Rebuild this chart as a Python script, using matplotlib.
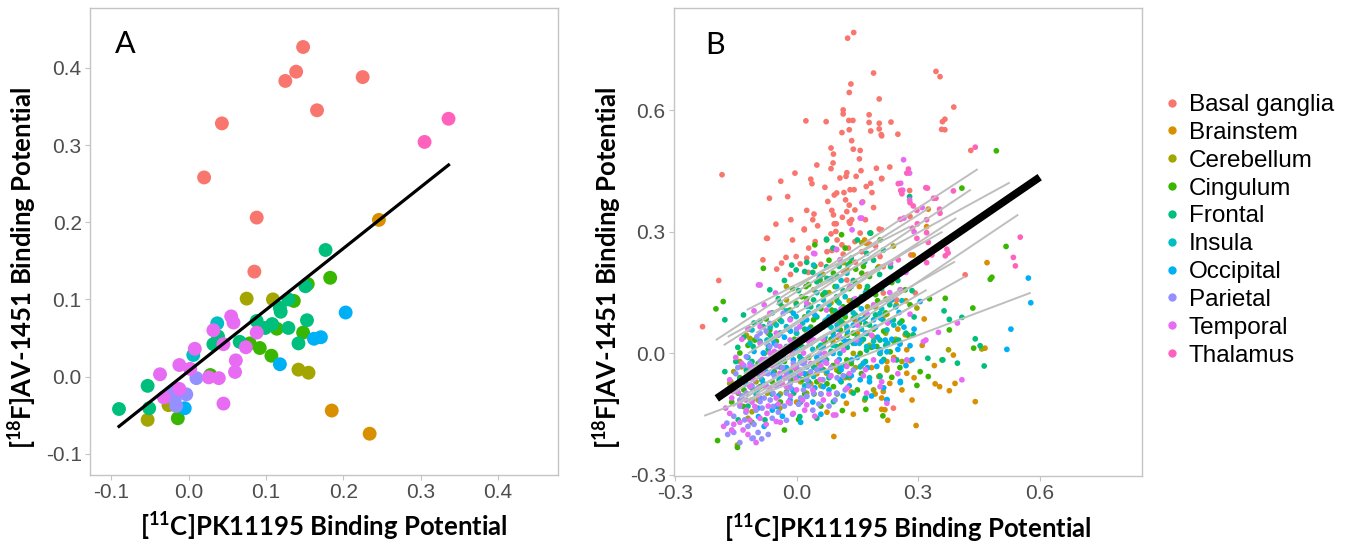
import matplotlib
matplotlib.use('Agg')
import matplotlib.pyplot as plt
from matplotlib.lines import Line2D
import numpy as np

plt.rcParams['font.family'] = ['Liberation Sans', 'DejaVu Sans']
plt.rcParams['axes.unicode_minus'] = False
plt.rcParams['mathtext.fontset'] = 'custom'
plt.rcParams['mathtext.rm'] = 'Lato'
plt.rcParams['mathtext.bf'] = 'Lato:bold'

REGIONS = ['Basal ganglia', 'Brainstem', 'Cerebellum', 'Cingulum', 'Frontal',
           'Insula', 'Occipital', 'Parietal', 'Temporal', 'Thalamus']
COLORS = ['#F8766D', '#D89000', '#A3A500', '#39B600', '#00BF7D',
          '#00BFC4', '#00B0F6', '#9590FF', '#E76BF3', '#FF62BC']

# ---------------- Panel A: regional means (PK11195 BP, AV-1451 BP) ----------------
A_BASAL = [(0.148, 0.427), (0.139, 0.395), (0.125, 0.383), (0.225, 0.388), (0.166, 0.345),
           (0.043, 0.328), (0.020, 0.258), (0.088, 0.206), (0.085, 0.136)]
A_BRAINSTEM = [(0.246, 0.203), (0.185, -0.044), (0.234, -0.074)]
A_CEREBELLUM = [(-0.053, -0.056), (-0.026, -0.037), (0.075, 0.101), (0.109, 0.100),
                (0.142, 0.009), (0.155, 0.005)]
A_CINGULUM = [(-0.014, -0.054), (0.028, 0.002), (0.079, 0.043), (0.092, 0.037), (0.107, 0.027),
              (0.114, 0.062), (0.136, 0.098), (0.148, 0.057), (0.183, 0.128), (0.154, 0.120)]
A_FRONTAL = [(-0.090, -0.042), (-0.053, -0.012), (-0.051, -0.041), (0.038, 0.052), (0.032, 0.042),
             (0.066, 0.045), (0.177, 0.164), (0.151, 0.117), (0.129, 0.100), (0.118, 0.089),
             (0.119, 0.084), (0.153, 0.073), (0.088, 0.072), (0.108, 0.068), (0.129, 0.063),
             (0.099, 0.063), (0.142, 0.043)]
A_INSULA = [(0.006, 0.028), (0.037, 0.069)]
A_OCCIPITAL = [(-0.005, -0.041), (0.118, 0.016), (0.162, 0.049), (0.171, 0.051), (0.203, 0.083)]
A_PARIETAL = [(-0.022, -0.020), (-0.016, -0.038), (-0.003, -0.023), (0.010, -0.002), (-0.018, -0.030)]
A_TEMPORAL = [(-0.037, 0.003), (-0.012, 0.015), (-0.012, -0.016), (-0.032, -0.027), (0.002, 0.010),
              (0.008, 0.036), (0.026, -0.001), (0.039, -0.002), (0.045, -0.035), (0.032, 0.060),
              (0.045, 0.042), (0.055, 0.078), (0.058, 0.070), (0.061, 0.021), (0.060, 0.006),
              (0.074, 0.038), (0.088, 0.057)]
A_THALAMUS = [(0.305, 0.304), (0.336, 0.334)]
A_FIT = (0.795, 0.007)   # slope, intercept of panel-A regression line

# ---------------- Panel B: all subjects x regions ----------------
B_BASAL = [(0.141, 0.792), (0.126, 0.778), (0.190, 0.692), (0.134, 0.665), (0.130, 0.644),
           (0.204, 0.628), (0.115, 0.601), (0.115, 0.591), (0.023, 0.574), (0.073, 0.572),
           (0.129, 0.575), (0.139, 0.575), (0.179, 0.589), (0.179, 0.570), (0.204, 0.568),
           (0.183, 0.549), (0.204, 0.554), (0.210, 0.537), (0.233, 0.571), (0.250, 0.541),
           (0.112, 0.545), (0.130, 0.552), (0.136, 0.525), (0.140, 0.504), (0.157, 0.501),
           (0.085, 0.507), (0.091, 0.492), (0.155, 0.480), (0.050, 0.465), (0.085, 0.456),
           (0.124, 0.446), (0.159, 0.451), (0.197, 0.457), (-0.004, 0.445), (-0.184, 0.441),
           (-0.039, 0.425), (0.035, 0.430), (0.038, 0.419), (0.107, 0.433), (0.122, 0.437),
           (0.147, 0.437), (0.210, 0.432), (0.172, 0.412), (0.183, 0.420), (0.186, 0.397),
           (-0.067, 0.383), (-0.022, 0.387), (0.077, 0.375), (0.093, 0.391), (0.099, 0.396),
           (0.117, 0.397), (0.132, 0.404), (0.142, 0.404), (0.121, 0.379), (0.130, 0.366),
           (0.163, 0.374), (0.025, 0.353), (0.043, 0.344), (0.040, 0.330), (-0.051, 0.319),
           (-0.014, 0.330), (0.052, 0.315), (0.087, 0.353), (0.091, 0.342), (0.124, 0.350),
           (0.144, 0.354), (0.113, 0.336), (0.136, 0.330), (0.132, 0.321), (0.098, 0.320),
           (0.019, 0.307), (0.097, 0.301), (0.204, 0.307), (-0.074, 0.284), (0.019, 0.305),
           (-0.072, 0.284), (-0.083, 0.231), (-0.026, 0.237), (-0.037, 0.223), (-0.049, 0.208),
           (-0.001, 0.239), (0.009, 0.221), (0.029, 0.200), (-0.192, 0.180), (-0.232, 0.066),
           (0.075, 0.251), (0.087, 0.254), (0.099, 0.256), (0.112, 0.268), (0.128, 0.260),
           (0.144, 0.276), (0.161, 0.251), (0.157, 0.297), (0.206, 0.239), (0.214, 0.214),
           (0.093, 0.320), (0.130, 0.325), (0.046, 0.276), (0.116, 0.202), (0.124, 0.181),
           (0.214, 0.149), (0.247, 0.132), (0.239, -0.135), (0.144, 0.083), (0.173, 0.050),
           (0.358, 0.553), (0.360, 0.572), (0.209, 0.540), (0.430, 0.501), (0.210, 0.431),
           (0.279, 0.402), (0.280, 0.338), (0.210, 0.305), (0.282, 0.243), (0.416, 0.194),
           (0.293, 0.149), (0.256, 0.157), (0.344, 0.696), (0.354, 0.683), (0.366, 0.578),
           (0.366, 0.552), (0.388, 0.608), (0.06, 0.22), (0.10, 0.28), (0.18, 0.27), (0.03, 0.26),
           (0.17, 0.33), (0.07, 0.41), (0.19, 0.36), (-0.01, 0.28), (0.23, 0.46), (0.09, 0.47),
           (0.055, 0.185), (0.115, 0.245), (0.145, 0.225), (0.175, 0.195), (0.025, 0.235),
           (0.195, 0.265), (0.085, 0.295), (-0.015, 0.195)]
B_BRAINSTEM = [(0.325, 0.356), (0.321, 0.313), (0.470, 0.224), (0.268, 0.046), (0.272, 0.009),
               (0.387, -0.004), (0.272, -0.049), (0.223, -0.020), (0.223, -0.035), (0.342, -0.075),
               (0.353, -0.082), (0.377, -0.092), (0.391, -0.074), (0.441, -0.119), (0.295, -0.178),
               (0.214, -0.094), (0.210, -0.138), (0.246, 0.120), (0.219, 0.095), (0.092, -0.205),
               (0.465, 0.013), (0.280, -0.018), (0.194, -0.100), (0.123, -0.123), (0.218, -0.139),
               (0.203, -0.057), (0.230, -0.074), (0.168, 0.280), (0.172, 0.272), (0.288, 0.243),
               (0.203, 0.214), (0.150, 0.050), (0.180, 0.020), (0.100, -0.020), (0.250, 0.060),
               (0.130, 0.130), (0.060, -0.100), (0.240, -0.010),
               (0.05, -0.05), (0.09, 0.03), (0.12, -0.06), (0.16, -0.03), (0.19, 0.04), (0.21, -0.11),
               (0.26, -0.09), (0.29, -0.06), (0.31, 0.02), (0.34, -0.03), (0.27, 0.13), (0.17, 0.09),
               (0.00, -0.12), (0.14, -0.15),
               (0.035, -0.075), (0.075, -0.145), (0.105, 0.075), (0.135, -0.095), (0.155, 0.165),
               (0.185, -0.035), (0.225, -0.165), (0.255, 0.025), (0.285, -0.115), (0.315, 0.085),
               (0.195, 0.115), (0.125, 0.205)]
B_CEREBELLUM = [(-0.124, 0.045), (-0.115, 0.037), (-0.136, -0.033), (-0.165, -0.074), (-0.025, 0.132),
                (0.042, 0.157), (0.116, 0.224), (0.161, 0.273), (0.168, -0.115), (0.124, 0.058),
                (0.074, -0.049), (0.140, 0.000), (0.025, -0.098), (-0.110, -0.144), (-0.072, -0.098),
                (-0.041, -0.135), (-0.086, -0.065), (0.206, 0.000), (0.181, 0.017), (0.223, -0.041),
                (0.066, 0.017), (0.099, -0.041), (0.239, 0.265), (0.375, 0.009), (0.457, 0.011),
                (0.297, 0.112), (0.223, 0.097), (-0.146, -0.226), (0.000, 0.050), (-0.050, -0.030),
                (0.030, -0.050), (0.090, 0.100), (-0.162, -0.070),
                (-0.14, -0.02), (-0.10, -0.07), (-0.07, 0.05), (-0.04, -0.10), (0.01, -0.07),
                (0.04, 0.03), (0.06, -0.08), (0.10, 0.04), (0.13, -0.06), (0.16, 0.03), (0.19, -0.09),
                (0.22, 0.05), (0.08, 0.15), (0.03, 0.12), (-0.12, -0.16), (0.26, -0.02),
                (-0.155, -0.045), (-0.095, -0.115), (-0.055, 0.075), (-0.015, -0.045), (0.025, 0.055),
                (0.055, -0.025), (0.085, 0.125), (0.115, 0.075), (0.145, -0.035), (0.175, 0.115),
                (0.205, -0.055), (0.245, 0.035), (-0.025, 0.165), (0.065, 0.195)]
B_CINGULUM = [(-0.181, 0.128), (-0.199, 0.110), (-0.082, 0.210), (-0.195, -0.215), (-0.146, -0.232),
              (-0.030, -0.189), (0.005, -0.163), (0.043, -0.100), (0.091, -0.082), (0.113, -0.141),
              (0.171, -0.138), (0.213, -0.154), (0.231, 0.004), (0.268, 0.157), (0.221, 0.134),
              (0.173, 0.157), (0.161, 0.198), (0.146, 0.208), (0.132, 0.223), (0.111, 0.293),
              (0.074, 0.280), (0.183, 0.297), (0.206, 0.280), (0.045, 0.268), (0.023, 0.165),
              (-0.001, 0.124), (0.042, 0.083), (0.087, 0.107), (0.108, 0.058), (0.140, 0.086),
              (0.173, 0.049), (0.198, 0.017), (0.157, 0.000), (0.124, -0.016), (0.066, -0.040),
              (0.025, -0.057), (-0.014, -0.065), (-0.041, -0.033), (-0.073, -0.016), (-0.090, -0.082),
              (-0.110, -0.115), (-0.131, -0.131), (-0.144, -0.098), (-0.140, 0.001), (-0.103, 0.033),
              (-0.066, 0.058), (-0.041, 0.083), (-0.016, 0.107), (0.013, 0.140), (0.058, 0.181),
              (0.091, 0.198), (0.493, 0.500), (0.408, 0.408), (0.517, 0.264), (0.478, 0.183),
              (0.482, 0.188), (0.435, 0.112), (0.377, 0.058), (0.437, 0.013), (0.359, -0.016),
              (0.325, -0.057), (0.297, -0.079), (0.235, -0.059), (0.305, -0.045), (0.367, 0.136),
              (0.328, 0.135),
              (-0.12, 0.02), (-0.10, -0.05), (-0.08, 0.00), (-0.06, -0.07), (-0.05, 0.03), (-0.03, -0.02),
              (-0.02, 0.06), (0.00, -0.04), (0.01, 0.02), (0.02, 0.09), (0.03, -0.01), (0.04, 0.05),
              (0.05, -0.07), (0.06, 0.11), (0.07, 0.03), (0.08, 0.07), (0.09, -0.03), (0.10, 0.13),
              (0.11, 0.02), (0.12, 0.09), (0.13, 0.16), (0.14, 0.05), (0.15, 0.12), (0.16, -0.05),
              (0.17, 0.09), (0.18, 0.19), (0.19, 0.06), (0.20, 0.13), (0.22, 0.10), (0.24, 0.03),
              (0.26, 0.08), (0.28, 0.12), (-0.14, -0.06), (-0.16, -0.12), (-0.11, -0.17), (-0.04, -0.12),
              (0.02, -0.10), (0.06, -0.13), (0.10, -0.10), (0.15, -0.09), (0.03, 0.17), (0.08, 0.23),
              (-0.01, 0.16), (0.12, 0.26), (0.20, 0.21),
              (-0.13, -0.09), (-0.115, 0.06), (-0.095, -0.025), (-0.075, 0.085), (-0.055, -0.045),
              (-0.035, 0.115), (-0.025, -0.095), (-0.005, 0.035), (0.015, -0.065), (0.025, 0.135),
              (0.035, 0.065), (0.055, 0.015), (0.065, 0.145), (0.075, -0.075), (0.085, 0.035),
              (0.095, 0.165), (0.105, -0.045), (0.115, 0.115), (0.125, 0.045), (0.135, -0.025),
              (0.145, 0.175), (0.155, 0.075), (0.165, 0.215), (0.185, 0.015), (0.195, 0.145),
              (0.215, 0.055), (0.235, 0.175), (0.255, -0.035), (0.275, 0.045), (0.045, 0.215)]
B_FRONTAL = [(-0.177, 0.083), (-0.131, 0.095), (-0.066, 0.157), (-0.001, 0.206), (0.020, 0.202),
             (0.074, 0.214), (0.127, 0.218), (0.168, 0.226), (0.173, 0.247), (0.214, 0.255),
             (0.232, 0.214), (0.181, 0.297), (0.074, 0.282), (-0.012, 0.218), (0.050, 0.177),
             (0.099, 0.140), (0.140, 0.132), (0.190, 0.116), (0.239, 0.083), (0.252, 0.033),
             (0.206, 0.033), (0.173, 0.008), (0.140, 0.025), (0.099, 0.017), (0.074, -0.016),
             (0.042, -0.033), (0.008, -0.008), (-0.025, 0.017), (-0.058, 0.033), (-0.082, 0.066),
             (-0.107, 0.017), (-0.124, -0.041), (-0.110, -0.086), (-0.144, -0.164), (-0.078, -0.164),
             (0.008, -0.156), (0.091, -0.119), (0.140, -0.098), (0.206, -0.057), (0.247, -0.016),
             (-0.177, -0.045), (-0.043, -0.065), (-0.007, -0.098), (0.124, -0.057), (0.171, 0.073),
             (0.213, 0.083), (0.042, 0.132), (-0.041, 0.124), (0.453, 0.019), (0.463, -0.031),
             (0.397, -0.024), (0.408, 0.089), (0.377, 0.084), (0.364, 0.105), (0.324, -0.012),
             (0.441, 0.036), (0.279, 0.387), (0.288, 0.046), (0.361, -0.016),
             (-0.13, 0.04), (-0.11, -0.02), (-0.09, 0.08), (-0.07, 0.01), (-0.06, 0.10), (-0.04, 0.05),
             (-0.03, -0.04), (-0.01, 0.03), (0.00, 0.12), (0.02, 0.06), (0.03, -0.07), (0.05, 0.09),
             (0.06, 0.02), (0.07, 0.15), (0.08, -0.06), (0.09, 0.05), (0.10, 0.19), (0.11, 0.08),
             (0.12, -0.03), (0.13, 0.11), (0.14, 0.18), (0.15, 0.04), (0.16, 0.14), (0.17, -0.02),
             (0.18, 0.07), (0.19, 0.23), (0.21, 0.16), (0.22, 0.02), (0.23, 0.12), (0.25, 0.18),
             (0.27, 0.05), (0.29, 0.09), (-0.15, -0.02), (-0.17, -0.09), (-0.12, -0.13), (-0.06, -0.10),
             (0.01, -0.12), (0.05, -0.16), (0.11, -0.07), (0.17, -0.11), (0.04, 0.20), (0.09, 0.26),
             (-0.03, 0.18), (0.15, 0.28),
             (-0.145, 0.015), (-0.125, -0.065), (-0.105, 0.075), (-0.085, -0.035), (-0.065, 0.045),
             (-0.045, 0.135), (-0.035, -0.015), (-0.015, 0.085), (0.005, 0.155), (0.015, 0.015),
             (0.035, 0.115), (0.045, -0.035), (0.065, 0.065), (0.075, 0.185), (0.085, 0.005),
             (0.095, 0.105), (0.115, 0.155), (0.125, 0.015), (0.135, 0.235), (0.145, 0.095),
             (0.165, 0.035), (0.175, 0.165), (0.195, 0.095), (0.205, 0.195), (0.215, -0.015),
             (0.235, 0.135), (0.255, 0.075), (0.285, 0.155), (0.105, 0.215), (0.025, 0.225)]
B_INSULA = [(0.042, 0.218), (0.058, 0.190), (0.099, 0.165), (0.124, 0.198), (0.025, 0.116),
            (-0.001, 0.091), (-0.025, 0.066), (0.074, 0.083), (0.124, 0.066), (0.157, 0.083),
            (0.206, 0.099), (0.223, 0.058), (0.173, 0.017), (0.107, 0.000), (0.058, 0.017),
            (0.008, 0.033), (-0.050, 0.001), (-0.073, -0.049), (-0.098, -0.090), (-0.014, -0.049),
            (0.042, -0.057), (-0.140, -0.065), (0.157, -0.033), (0.206, 0.000), (-0.073, 0.033),
            (-0.110, 0.058), (-0.037, 0.079), (0.066, 0.132),
            (-0.12, -0.01), (-0.09, 0.03), (-0.07, -0.03), (-0.05, 0.07), (-0.03, 0.01), (-0.02, -0.08),
            (0.00, 0.05), (0.01, -0.02), (0.03, 0.10), (0.04, 0.01), (0.06, -0.04), (0.07, 0.08),
            (0.08, 0.12), (0.09, 0.02), (0.10, 0.07), (0.12, 0.14), (0.13, 0.03), (0.14, 0.10),
            (0.16, 0.06), (0.17, 0.15), (0.19, 0.03), (0.21, 0.11), (0.24, 0.07), (-0.10, -0.10),
            (-0.05, -0.13), (0.02, -0.08), (0.05, 0.15), (0.11, 0.18), (0.18, -0.06), (0.26, 0.13),
            (-0.115, 0.025), (-0.085, -0.065), (-0.065, 0.065), (-0.045, -0.025), (-0.025, 0.105),
            (0.005, -0.055), (0.015, 0.075), (0.035, 0.025), (0.055, 0.115), (0.065, -0.015),
            (0.085, 0.065), (0.105, 0.125), (0.115, 0.035), (0.135, 0.165), (0.155, 0.025),
            (0.175, 0.095), (0.195, 0.155), (0.225, 0.025), (0.245, 0.115), (0.085, 0.185)]
B_OCCIPITAL = [(-0.008, 0.099), (0.025, 0.083), (0.058, 0.066), (0.091, 0.041), (0.124, 0.025),
               (0.157, 0.033), (0.190, 0.017), (0.223, 0.004), (0.255, 0.023), (0.256, -0.069),
               (0.223, -0.114), (0.165, -0.024), (0.107, -0.032), (0.058, -0.016), (0.025, -0.033),
               (-0.008, -0.016), (-0.041, 0.001), (-0.058, -0.049), (-0.082, -0.074), (-0.094, -0.156),
               (-0.049, -0.131), (-0.016, -0.115), (0.025, -0.106), (0.066, -0.082), (0.107, -0.065),
               (0.136, -0.016), (0.198, -0.032), (0.157, -0.065), (-0.041, 0.050), (-0.082, 0.001),
               (0.190, 0.083), (0.148, 0.124), (0.572, 0.186), (0.578, 0.125), (0.529, 0.060),
               (0.519, 0.010), (0.305, 0.128), (0.253, 0.101), (0.235, 0.132), (0.207, 0.087),
               (0.219, 0.033), (0.207, 0.009), (0.256, -0.072), (0.223, -0.115), (0.280, 0.019),
               (-0.11, -0.04), (-0.09, -0.11), (-0.07, 0.02), (-0.06, -0.14), (-0.04, -0.06), (-0.03, 0.04),
               (-0.01, -0.09), (0.00, 0.01), (0.02, -0.05), (0.03, 0.06), (0.04, -0.12), (0.05, -0.01),
               (0.07, 0.04), (0.08, -0.09), (0.09, 0.00), (0.10, 0.06), (0.11, -0.04), (0.12, 0.03),
               (0.13, -0.08), (0.14, 0.07), (0.15, -0.01), (0.17, 0.05), (0.18, -0.07), (0.20, 0.04),
               (0.21, -0.02), (0.23, 0.08), (0.25, 0.01), (0.27, -0.03), (0.29, 0.06), (0.12, 0.10),
               (0.08, 0.09), (0.16, 0.11), (-0.08, -0.18), (0.01, -0.17), (0.06, -0.15),
               (-0.125, -0.075), (-0.105, 0.005), (-0.095, -0.135), (-0.075, -0.045), (-0.055, 0.025),
               (-0.045, -0.105), (-0.025, -0.035), (-0.015, 0.055), (0.005, -0.125), (0.015, -0.015),
               (0.035, 0.035), (0.045, -0.085), (0.065, 0.015), (0.075, -0.045), (0.095, 0.085),
               (0.105, -0.015), (0.125, 0.055), (0.135, -0.055), (0.145, 0.025), (0.165, 0.085),
               (0.175, -0.035), (0.195, 0.065), (0.215, -0.085), (0.235, 0.035), (0.265, 0.065),
               (0.285, -0.015), (0.115, -0.105), (0.185, -0.105), (0.045, 0.095), (-0.035, -0.155)]
B_PARIETAL = [(-0.124, -0.008), (-0.107, -0.033), (-0.090, -0.057), (-0.073, -0.082), (-0.058, -0.098),
              (-0.041, -0.074), (-0.025, -0.049), (-0.008, -0.024), (0.008, -0.041), (0.025, -0.065),
              (-0.033, -0.008), (-0.066, 0.017), (-0.098, 0.041), (-0.066, 0.074), (-0.033, 0.099),
              (-0.124, -0.098), (-0.090, -0.119), (-0.128, -0.164), (-0.160, -0.189), (-0.107, -0.209),
              (-0.086, -0.211), (-0.016, -0.123), (0.042, -0.098), (0.083, -0.057), (0.058, 0.000),
              (0.000, 0.025), (-0.050, -0.033), (-0.140, -0.115), (-0.172, -0.172), (-0.082, -0.024),
              (-0.016, -0.074), (0.017, -0.090), (-0.115, -0.061), (-0.058, -0.131), (-0.025, -0.098),
              (0.140, -0.041), (0.099, -0.098),
              (-0.15, -0.05), (-0.14, -0.13), (-0.13, -0.03), (-0.12, -0.18), (-0.11, -0.08), (-0.10, -0.14),
              (-0.09, -0.02), (-0.08, -0.11), (-0.07, -0.05), (-0.06, -0.16), (-0.05, -0.08), (-0.04, -0.01),
              (-0.03, -0.13), (-0.02, -0.06), (-0.01, -0.15), (0.00, -0.03), (0.01, -0.11), (0.02, -0.02),
              (0.03, -0.08), (0.04, -0.14), (0.05, -0.04), (0.06, -0.10), (0.07, -0.02), (0.08, -0.13),
              (0.10, -0.06), (0.12, -0.09), (-0.09, 0.05), (-0.05, 0.02), (0.00, 0.06), (-0.17, -0.20),
              (-0.14, -0.22), (-0.11, -0.21), (-0.07, -0.20),
              (-0.165, -0.085), (-0.155, -0.155), (-0.145, -0.035), (-0.135, -0.105), (-0.125, -0.145),
              (-0.115, -0.025), (-0.105, -0.175), (-0.095, -0.085), (-0.085, -0.135), (-0.075, -0.015),
              (-0.065, -0.115), (-0.055, -0.055), (-0.045, -0.145), (-0.035, -0.035), (-0.025, -0.165),
              (-0.015, -0.085), (-0.005, -0.055), (0.005, -0.125), (0.015, -0.025), (0.025, -0.105),
              (0.035, -0.045), (0.055, -0.125), (0.065, -0.065), (0.085, -0.035), (0.095, -0.115),
              (0.115, -0.055), (-0.155, -0.195), (-0.095, -0.195), (-0.045, 0.045), (-0.075, 0.055)]
B_TEMPORAL = [(-0.090, 0.169), (0.042, 0.247), (-0.052, 0.149), (-0.066, 0.099), (-0.090, 0.066),
              (-0.090, 0.025), (-0.115, -0.033), (-0.066, -0.024), (-0.041, -0.049), (-0.025, -0.082),
              (0.000, -0.065), (-0.008, -0.033), (0.017, 0.001), (-0.016, 0.033), (-0.041, 0.017),
              (-0.066, 0.001), (-0.082, -0.049), (-0.115, -0.082), (-0.140, -0.123), (-0.124, -0.140),
              (-0.165, -0.148), (-0.132, -0.189), (-0.160, -0.190), (-0.050, -0.168), (-0.073, -0.148),
              (-0.008, -0.148), (0.025, -0.127), (0.066, -0.115), (0.091, -0.152), (0.058, -0.065),
              (0.074, -0.024), (0.124, -0.032), (0.116, 0.008), (0.148, 0.033), (0.173, 0.099),
              (0.132, 0.165), (0.107, 0.231), (0.232, 0.223), (0.256, 0.157), (0.239, -0.016),
              (0.190, -0.016), (0.206, -0.082), (0.173, -0.098), (0.042, 0.033), (0.008, 0.066),
              (-0.016, 0.083), (0.025, 0.124), (0.074, 0.107), (-0.050, 0.050), (-0.103, -0.131),
              (-0.156, -0.094), (0.272, -0.016), (0.280, 0.097), (0.313, 0.029), (0.350, 0.052),
              (0.397, 0.075), (0.408, -0.065), (0.223, -0.123), (0.319, 0.033), (0.097, -0.152),
              (0.264, 0.478), (0.279, 0.445), (0.257, 0.420), (0.262, 0.403), (0.279, 0.379),
              (0.265, 0.334), (-0.094, 0.169), (0.045, 0.246), (0.161, 0.334), (0.137, 0.305),
              (0.098, 0.257), (0.157, 0.334), (0.161, 0.372),
              (-0.16, -0.11), (-0.14, -0.17), (-0.13, -0.07), (-0.12, -0.20), (-0.11, -0.12), (-0.10, -0.04),
              (-0.09, -0.16), (-0.08, -0.08), (-0.07, -0.13), (-0.06, -0.03), (-0.05, -0.11), (-0.04, -0.17),
              (-0.03, -0.06), (-0.02, -0.12), (-0.01, 0.00), (0.00, -0.09), (0.01, -0.05), (0.02, -0.14),
              (0.03, 0.03), (0.04, -0.09), (0.05, 0.06), (0.06, -0.03), (0.07, 0.00), (0.08, -0.10),
              (0.09, 0.08), (0.10, -0.02), (0.11, 0.11), (0.13, -0.05), (0.15, 0.07), (0.17, -0.04),
              (0.19, 0.12), (0.21, -0.07), (0.23, 0.15), (0.25, -0.05), (0.27, 0.20), (-0.08, 0.12),
              (-0.12, 0.06), (-0.15, -0.01), (-0.18, -0.18), (-0.10, -0.22), (0.31, 0.36), (0.29, 0.30),
              (-0.175, -0.135), (-0.165, -0.065), (-0.155, -0.175), (-0.145, -0.095), (-0.135, -0.025),
              (-0.125, -0.115), (-0.115, -0.165), (-0.105, -0.065), (-0.095, -0.105), (-0.085, -0.015),
              (-0.075, -0.175), (-0.065, -0.085), (-0.055, 0.005), (-0.045, -0.125), (-0.035, -0.075),
              (-0.025, 0.015), (-0.015, -0.105), (-0.005, -0.035), (0.005, 0.035), (0.015, -0.115),
              (0.035, -0.025), (0.045, -0.155), (0.065, 0.035), (0.085, -0.055), (0.105, 0.045),
              (0.125, -0.085), (0.145, 0.135), (0.165, -0.055), (0.185, 0.045), (0.225, 0.075),
              (-0.135, 0.035), (-0.105, 0.105)]
B_THALAMUS = [(0.441, 0.509), (0.276, 0.455), (0.272, 0.445), (0.251, 0.419), (0.257, 0.402),
              (0.260, 0.394), (0.319, 0.409), (0.344, 0.383), (0.387, 0.401), (0.280, 0.372),
              (0.288, 0.364), (0.297, 0.353), (0.353, 0.356), (0.354, 0.346), (0.256, 0.331),
              (0.321, 0.330), (0.298, 0.320), (0.286, 0.309), (0.321, 0.298), (0.297, 0.284),
              (0.325, 0.274), (0.371, 0.257), (0.367, 0.241), (0.334, 0.243), (0.321, 0.224),
              (0.552, 0.287), (0.535, 0.237), (0.540, 0.216), (0.251, 0.231), (0.374, 0.248),
              (0.323, 0.408), (0.338, 0.383)]

# per-subject fitted lines (grey): slope, intercept, x-min, x-max
SUBJ_SLOPE = [0.653, 0.377, 0.547, 0.672, 0.668, 0.650, 0.567, 0.562, 0.579, 0.582,
              0.511, 0.632, 0.658, 0.619, 0.556, 0.652, 0.581, 0.632]
SUBJ_INTERCEPT = [0.163, -0.068, 0.134, -0.025, 0.117, 0.078, 0.005, -0.044, -0.029, -0.050,
                  0.170, 0.152, 0.073, -0.001, 0.100, 0.035, 0.005, 0.134]
SUBJ_XMIN = [-0.199, -0.228, -0.170, -0.157, -0.100, -0.120, -0.150, -0.100, -0.140, -0.120,
             -0.123, -0.050, -0.080, -0.160, 0.000, -0.130, -0.060, -0.180]
SUBJ_XMAX = [0.447, 0.578, 0.526, 0.547, 0.430, 0.394, 0.391, 0.416, 0.321, 0.313,
             0.280, 0.330, 0.300, 0.260, 0.360, 0.330, 0.250, 0.200]
FIX_FIT = (0.685, 0.024)           # group (fixed-effect) slope, intercept
FIX_XRANGE = (-0.197, 0.600)

A_DATA = [A_BASAL, A_BRAINSTEM, A_CEREBELLUM, A_CINGULUM, A_FRONTAL,
          A_INSULA, A_OCCIPITAL, A_PARIETAL, A_TEMPORAL, A_THALAMUS]
B_DATA = [B_BASAL, B_BRAINSTEM, B_CEREBELLUM, B_CINGULUM, B_FRONTAL,
          B_INSULA, B_OCCIPITAL, B_PARIETAL, B_TEMPORAL, B_THALAMUS]

W, H = 1355, 548
fig = plt.figure(figsize=(W / 100, H / 100), dpi=100)
axA = fig.add_axes([90 / W, 1 - 475 / H, 468 / W, 467 / H])
axB = fig.add_axes([674 / W, 1 - 476 / H, 468 / W, 468 / H])

TICK_COL = '#4D4D4D'
FRAME_COL = '#C4C4C4'
XLAB = r'[$^{\mathbf{11}}$C]PK11195 Binding Potential'
YLAB = r'[$^{\mathbf{18}}$F]AV-1451 Binding Potential'


def style(ax, ticks, lim):
    ax.set_xlim(*lim)
    ax.set_ylim(*lim)
    ax.set_xticks(ticks)
    ax.set_yticks(ticks)
    ax.set_xticklabels([f'{t:.1f}' for t in ticks])
    ax.set_yticklabels([f'{t:.1f}' for t in ticks])
    for s in ax.spines.values():
        s.set_color(FRAME_COL)
        s.set_linewidth(1.0)
    ax.tick_params(length=3.5, width=0.8, color=FRAME_COL, labelcolor=TICK_COL,
                   labelsize=15, pad=2.5)
    ax.set_xlabel(XLAB, fontfamily='Lato', fontweight='bold', fontsize=18.5, color='black')
    ax.set_ylabel(YLAB, fontfamily='Lato', fontweight='bold', fontsize=18.5, color='black')
    ax.xaxis.set_label_coords(0.5, -0.111)
    ax.xaxis.label.set_va('center')
    ax.yaxis.label.set_va('center')


# Panel A
for pts, col in zip(A_DATA, COLORS):
    xs = [p[0] for p in pts]
    ys = [p[1] for p in pts]
    axA.scatter(xs, ys, s=100, color=col, edgecolors='none', zorder=2)
allx = [p[0] for pts in A_DATA for p in pts]
xx = np.array([min(allx), max(allx)])
axA.plot(xx, A_FIT[0] * xx + A_FIT[1], color='black', lw=2.3, zorder=3)
style(axA, [-0.1, 0.0, 0.1, 0.2, 0.3, 0.4], (-0.1275, 0.4775))
axA.yaxis.set_label_coords((22 - 90) / 468, 0.444)
axA.text(0.075, 0.923, 'A', transform=axA.transAxes, fontfamily='Lato', fontsize=22,
         ha='center', va='center')

# Panel B
for pts, col in zip(B_DATA, COLORS):
    xs = [p[0] for p in pts]
    ys = [p[1] for p in pts]
    axB.scatter(xs, ys, s=17, color=col, edgecolors='none', zorder=2)
for sl, ic, x0, x1 in zip(SUBJ_SLOPE, SUBJ_INTERCEPT, SUBJ_XMIN, SUBJ_XMAX):
    xx = np.array([x0, x1])
    axB.plot(xx, sl * xx + ic, color='#BEBEBE', lw=1.4, zorder=3, solid_capstyle='butt')
xx = np.array(FIX_XRANGE)
axB.plot(xx, FIX_FIT[0] * xx + FIX_FIT[1], color='black', lw=5.5, zorder=4,
         solid_capstyle='butt')
style(axB, [-0.3, 0.0, 0.3, 0.6], (-0.3025, 0.8525))
axB.yaxis.set_label_coords((607 - 674) / 468, 0.444)
axB.text(0.088, 0.921, 'B', transform=axB.transAxes, fontfamily='Lato', fontsize=22,
         ha='center', va='center')

handles = [Line2D([], [], linestyle='none', marker='o', markersize=6, color=c,
                  markeredgewidth=0) for c in COLORS]
fig.legend(handles, REGIONS, loc='upper left', bbox_to_anchor=(1159.5 / W, 1 - 94 / H),
           frameon=False, fontsize=17.5, labelspacing=0.24, handletextpad=0.2,
           handlelength=1.0, borderpad=0, borderaxespad=0)

fig.savefig('out.png', dpi=100)
